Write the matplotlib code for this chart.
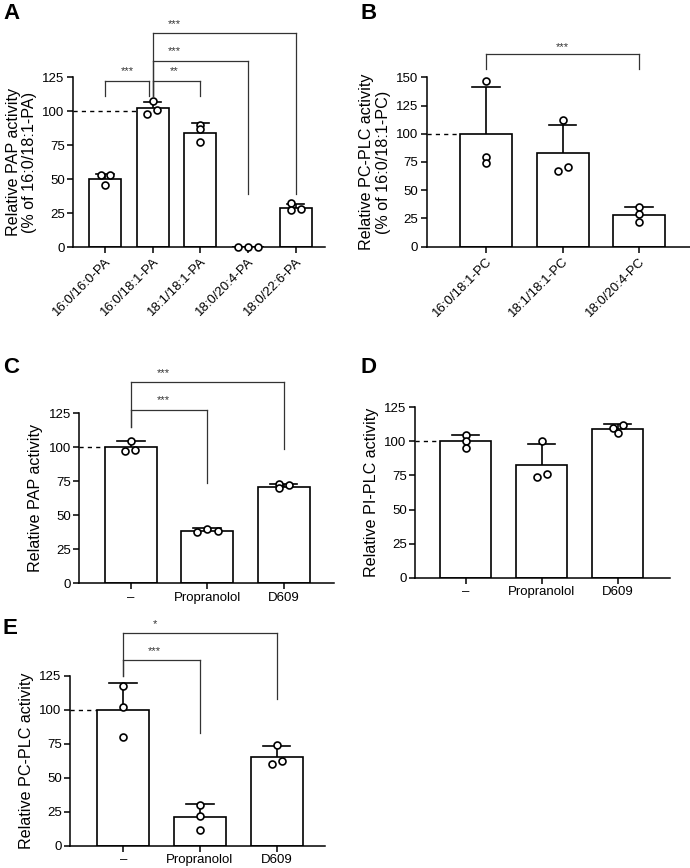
import matplotlib
matplotlib.use('Agg')
import matplotlib.pyplot as plt
import numpy as np

plt.rcParams['font.family'] = ['Liberation Sans', 'DejaVu Sans']

# ---------------- data ----------------
a_cats = ['16:0/16:0-PA', '16:0/18:1-PA', '18:1/18:1-PA', '18:0/20:4-PA', '18:0/22:6-PA']
a_means = [50, 102, 84, 0, 29]
a_sd = [4, 4.8, 7, 0, 2.6]
a_points = [[53, 45.5, 53], [98, 107, 101], [90, 87, 77], [0, 0, 0], [32, 27, 28]]

b_cats = ['16:0/18:1-PC', '18:1/18:1-PC', '18:0/20:4-PC']
b_means = [100, 83, 28.5]
b_sd = [41, 25, 6.7]
b_points = [[147, 79, 74], [112, 67, 71], [35, 29, 22]]

c_cats = ['–', 'Propranolol', 'D609']
c_means = [100, 38.5, 71]
c_sd = [4.6, 2.2, 2]
c_points = [[105, 97, 98], [37.5, 40, 38.5], [73, 70.3, 72]]

d_cats = ['–', 'Propranolol', 'D609']
d_means = [100, 83, 109]
d_sd = [4.5, 15, 3.5]
d_points = [[104.5, 100, 95.5], [100, 74, 76], [112, 110, 106]]

e_cats = ['–', 'Propranolol', 'D609']
e_means = [100, 21.3, 65.7]
e_sd = [19.5, 9.5, 7.8]
e_points = [[118, 102, 80], [30.5, 22, 11.5], [74.5, 60.5, 62.5]]

# significance labels
a_sig = ['***', '**', '***', '***']
b_sig = ['***']
c_sig = ['***', '***']
e_sig = ['***', '*']

# ---------------- style ----------------
a_jit = [[-0.08, 0, 0.1], [-0.11, 0, 0.1], [0, 0, 0], [-0.21, 0, 0.21], [-0.1, -0.1, 0.1]]
b_jit = [[0, 0, 0], [0, -0.065, 0.07], [0, 0, 0]]
c_jit = [[0, -0.075, 0.057], [-0.13, 0, 0.14], [-0.065, -0.065, 0.065]]
d_jit = [[0, 0, 0], [0, -0.066, 0.066], [0.075, -0.057, 0]]
e_jit = [[0, 0, 0], [0, 0, 0], [0, -0.065, 0.065]]

W, H = 690, 868
fig = plt.figure(figsize=(W / 100, H / 100), dpi=100)

LW = 1.2
BRC = '#333333'


def px_axes(l, r, b, t):
    return fig.add_axes([l / W, 1 - b / H, (r - l) / W, (b - t) / H])


def panel(ax, cats, means, sd, pts, jit, ymax, ystep, xlim, width, ylabel,
          rot=False, dash_to=0):
    x = np.arange(len(cats))
    ax.bar(x, means, width=width, color='white', edgecolor='black',
           linewidth=LW, zorder=2)
    cap = 0.18
    for i in range(len(cats)):
        if sd[i] > 0:
            ax.plot([x[i], x[i]], [means[i], means[i] + sd[i]], color='black',
                    lw=LW, zorder=3, solid_capstyle='butt')
            ax.plot([x[i] - cap, x[i] + cap], [means[i] + sd[i]] * 2,
                    color='black', lw=LW, zorder=3)
        ax.plot(x[i] + np.array(jit[i]), pts[i], 'o', ms=5, mfc='white',
                mec='black', mew=1.2, zorder=4, clip_on=False)
    ax.set_xlim(*xlim)
    ax.set_ylim(0, ymax)
    ax.set_yticks(np.arange(0, ymax + 1, ystep))
    ax.set_xticks(x)
    if rot:
        ax.set_xticklabels(cats, rotation=45, ha='right', rotation_mode='anchor')
    else:
        ax.set_xticklabels(cats)
    for s in ['top', 'right']:
        ax.spines[s].set_visible(False)
    for s in ['left', 'bottom']:
        ax.spines[s].set_linewidth(1.1)
    ax.spines['left'].set_bounds(0, ymax)
    ax.tick_params(direction='out', length=4, width=1.1, labelsize=9.5, pad=2)
    ax.set_ylabel(ylabel, fontsize=11.6, linespacing=1.1)
    # dashed reference line at 100
    ax.plot([xlim[0], dash_to - width / 2], [100, 100], color='black', lw=1.0,
            dashes=(3, 3), zorder=1, clip_on=False)


def bracket(ax, x1, x2, y, yl1, yl2, label, lx, ly, fs=8):
    kw = dict(color=BRC, lw=0.9, clip_on=False, zorder=5)
    ax.plot([x1, x1], [yl1, y], **kw)
    ax.plot([x1, x2], [y, y], **kw)
    ax.plot([x2, x2], [y, yl2], **kw)
    ax.text(lx, ly, label, ha='center', va='center', fontsize=fs, color=BRC,
            clip_on=False)


# ---- A ----
axA = px_axes(73, 325, 247, 77)
panel(axA, a_cats, a_means, a_sd, a_points, a_jit, 125, 25, (-0.67, 4.61), 0.67,
      'Relative PAP activity\n(% of 16:0/18:1-PA)', rot=True, dash_to=1)
bracket(axA, 0, 0.92, 122, 111, 111, a_sig[0], 0.46, 129)
bracket(axA, 1, 2, 122, 111, 111, a_sig[1], 1.45, 129)
bracket(axA, 1, 3, 137, 111, 39, a_sig[2], 1.45, 144)
bracket(axA, 1, 4, 157, 111, 39, a_sig[3], 1.45, 164)

# ---- B ----
axB = px_axes(426.7, 690, 246.7, 77.3)
panel(axB, b_cats, b_means, b_sd, b_points, b_jit, 150, 25, (-0.775, 2.665), 0.68,
      'Relative PC-PLC activity\n(% of 16:0/18:1-PC)', rot=True, dash_to=0)
bracket(axB, 0, 2, 171, 157, 157, b_sig[0], 1.0, 177)

# ---- C ----
axC = px_axes(79.3, 334, 583.3, 413.3)
panel(axC, c_cats, c_means, c_sd, c_points, c_jit, 125, 25, (-0.674, 2.66), 0.68,
      'Relative PAP activity', dash_to=0)
bracket(axC, 0, 1, 127.4, 115, 73.5, c_sig[0], 0.42, 134.5)
bracket(axC, 0, 2, 147.8, 115, 98.8, c_sig[1], 0.42, 154.5)

# ---- D ----
axD = px_axes(415, 670, 577.7, 407.3)
panel(axD, d_cats, d_means, d_sd, d_points, d_jit, 125, 25, (-0.667, 2.69), 0.68,
      'Relative PI-PLC activity', dash_to=0)

# ---- E ----
axE = px_axes(70, 325, 846, 676)
panel(axE, e_cats, e_means, e_sd, e_points, e_jit, 125, 25, (-0.695, 2.63), 0.68,
      'Relative PC-PLC activity', dash_to=0)
bracket(axE, 0, 1, 136.8, 125, 82.8, e_sig[0], 0.41, 143.5)
bracket(axE, 0, 2, 156.4, 125, 108, e_sig[1], 0.41, 163.5)

# panel letters
for lab, xp, yp in [('A', 3, 3), ('B', 361, 3), ('C', 3, 357), ('D', 361, 357), ('E', 3, 618)]:
    fig.text(xp / W, 1 - yp / H, lab, fontsize=16, fontweight='bold',
             ha='left', va='top')

fig.savefig('out.png', dpi=100)
